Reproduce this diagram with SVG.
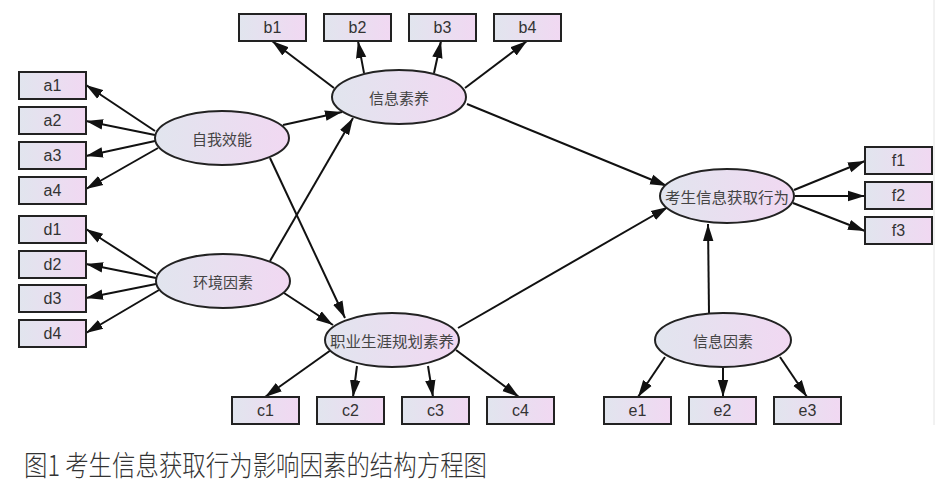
<svg xmlns="http://www.w3.org/2000/svg" width="951" height="489" viewBox="0 0 951 489">
<defs>
<linearGradient id="g" x1="0" y1="0" x2="1" y2="0">
<stop offset="0" stop-color="#e1e5ee"/>
<stop offset="1" stop-color="#f1d8f2"/>
</linearGradient>
<marker id="ah" markerUnits="userSpaceOnUse" markerWidth="18" markerHeight="12" viewBox="0 0 18 12" refX="17" refY="6" orient="auto">
<path d="M0,0.8 L17,6 L0,11.2 Z" fill="#111"/>
</marker>
<style>
.box{fill:url(#g);stroke:#222;stroke-width:2}
.ell{fill:url(#g);stroke:#222;stroke-width:2}
.lb{font-family:"Liberation Sans",Arial,sans-serif;font-size:16px;fill:#333;text-anchor:middle;dominant-baseline:central}
.cn{font-family:"Noto Sans CJK SC",sans-serif;font-size:15px;fill:#444;text-anchor:middle;dominant-baseline:central}
.cap{font-family:"Noto Sans CJK SC",sans-serif;font-size:28px;font-weight:300;fill:#333}
#connectors line{stroke:#111;stroke-width:2;marker-end:url(#ah)}
</style>
</defs>
<rect width="951" height="489" fill="#fff"/>
<line x1="934" y1="0" x2="934" y2="425" stroke="#e4e4e4" stroke-width="1"/>
<g id="connectors">
<line x1="155" y1="131" x2="86" y2="85"/>
<line x1="155" y1="135" x2="86" y2="121"/>
<line x1="155" y1="141" x2="86" y2="156"/>
<line x1="158" y1="148" x2="86" y2="189"/>
<line x1="156" y1="274" x2="86" y2="229"/>
<line x1="156" y1="278" x2="86" y2="264"/>
<line x1="156" y1="284" x2="86" y2="298"/>
<line x1="159" y1="290" x2="86" y2="333"/>
<line x1="283" y1="125" x2="342" y2="112"/>
<line x1="270" y1="261" x2="353" y2="118"/>
<line x1="270" y1="158" x2="345" y2="318"/>
<line x1="284" y1="293" x2="333" y2="325"/>
<line x1="334" y1="88" x2="272" y2="41"/>
<line x1="364" y1="73" x2="358" y2="41"/>
<line x1="434" y1="73" x2="441" y2="41"/>
<line x1="465" y1="88" x2="527" y2="41"/>
<line x1="467" y1="104" x2="667" y2="186"/>
<line x1="458" y1="328" x2="668" y2="207"/>
<line x1="709" y1="313" x2="708" y2="224"/>
<line x1="794" y1="190" x2="865" y2="161"/>
<line x1="795" y1="196" x2="865" y2="196"/>
<line x1="793" y1="203" x2="865" y2="231"/>
<line x1="331" y1="350" x2="265" y2="397"/>
<line x1="357" y1="366" x2="353" y2="397"/>
<line x1="428" y1="366" x2="433" y2="397"/>
<line x1="456" y1="350" x2="519" y2="397"/>
<line x1="665" y1="357" x2="638" y2="397"/>
<line x1="723" y1="367" x2="723" y2="397"/>
<line x1="780" y1="357" x2="807" y2="397"/>
</g>
<g id="a1"><rect class="box" x="19" y="72" width="67" height="27"/><text class="lb" x="52.5" y="85.5">a1</text></g>
<g id="a2"><rect class="box" x="19" y="107" width="67" height="27"/><text class="lb" x="52.5" y="120.5">a2</text></g>
<g id="a3"><rect class="box" x="19" y="142" width="67" height="27"/><text class="lb" x="52.5" y="155.5">a3</text></g>
<g id="a4"><rect class="box" x="19" y="177" width="67" height="27"/><text class="lb" x="52.5" y="190.5">a4</text></g>
<g id="d1"><rect class="box" x="19" y="216" width="67" height="27"/><text class="lb" x="52.5" y="229.5">d1</text></g>
<g id="d2"><rect class="box" x="19" y="251" width="67" height="27"/><text class="lb" x="52.5" y="264.5">d2</text></g>
<g id="d3"><rect class="box" x="19" y="285" width="67" height="27"/><text class="lb" x="52.5" y="298.5">d3</text></g>
<g id="d4"><rect class="box" x="19" y="320" width="67" height="27"/><text class="lb" x="52.5" y="333.5">d4</text></g>
<g id="b1"><rect class="box" x="239" y="14" width="67" height="27"/><text class="lb" x="272.5" y="27.5">b1</text></g>
<g id="b2"><rect class="box" x="324" y="14" width="67" height="27"/><text class="lb" x="357.5" y="27.5">b2</text></g>
<g id="b3"><rect class="box" x="409" y="14" width="67" height="27"/><text class="lb" x="442.5" y="27.5">b3</text></g>
<g id="b4"><rect class="box" x="494" y="14" width="67" height="27"/><text class="lb" x="527.5" y="27.5">b4</text></g>
<g id="c1"><rect class="box" x="232" y="397" width="67" height="27"/><text class="lb" x="265.5" y="410.5">c1</text></g>
<g id="c2"><rect class="box" x="317" y="397" width="67" height="27"/><text class="lb" x="350.5" y="410.5">c2</text></g>
<g id="c3"><rect class="box" x="402" y="397" width="67" height="27"/><text class="lb" x="435.5" y="410.5">c3</text></g>
<g id="c4"><rect class="box" x="487" y="397" width="67" height="27"/><text class="lb" x="520.5" y="410.5">c4</text></g>
<g id="e1"><rect class="box" x="604" y="397" width="67" height="27"/><text class="lb" x="637.5" y="410.5">e1</text></g>
<g id="e2"><rect class="box" x="689" y="397" width="67" height="27"/><text class="lb" x="722.5" y="410.5">e2</text></g>
<g id="e3"><rect class="box" x="774" y="397" width="67" height="27"/><text class="lb" x="807.5" y="410.5">e3</text></g>
<g id="f1"><rect class="box" x="865" y="147" width="67" height="27"/><text class="lb" x="898.5" y="160.5">f1</text></g>
<g id="f2"><rect class="box" x="865" y="182" width="67" height="27"/><text class="lb" x="898.5" y="195.5">f2</text></g>
<g id="f3"><rect class="box" x="865" y="217" width="67" height="27"/><text class="lb" x="898.5" y="230.5">f3</text></g>
<g id="zwxn"><ellipse class="ell" cx="222" cy="138" rx="67" ry="27"/><text class="cn" x="222" y="138">自我效能</text></g>
<g id="hjys"><ellipse class="ell" cx="223" cy="281" rx="67" ry="27"/><text class="cn" x="223" y="281">环境因素</text></g>
<g id="xxsy"><ellipse class="ell" cx="399" cy="97" rx="67" ry="27"/><text class="cn" x="399" y="97">信息素养</text></g>
<g id="zysy"><ellipse class="ell" cx="392" cy="340" rx="67" ry="27"/><text class="cn" x="392" y="340" textLength="124" lengthAdjust="spacingAndGlyphs">职业生涯规划素养</text></g>
<g id="ksxw"><ellipse class="ell" cx="727" cy="196" rx="67" ry="27"/><text class="cn" x="727" y="196" textLength="124" lengthAdjust="spacingAndGlyphs">考生信息获取行为</text></g>
<g id="xxys"><ellipse class="ell" cx="723" cy="340" rx="68" ry="27"/><text class="cn" x="723" y="340">信息因素</text></g>
<text class="cap" x="24" y="476" textLength="463" lengthAdjust="spacingAndGlyphs">图1 考生信息获取行为影响因素的结构方程图</text>
</svg>
